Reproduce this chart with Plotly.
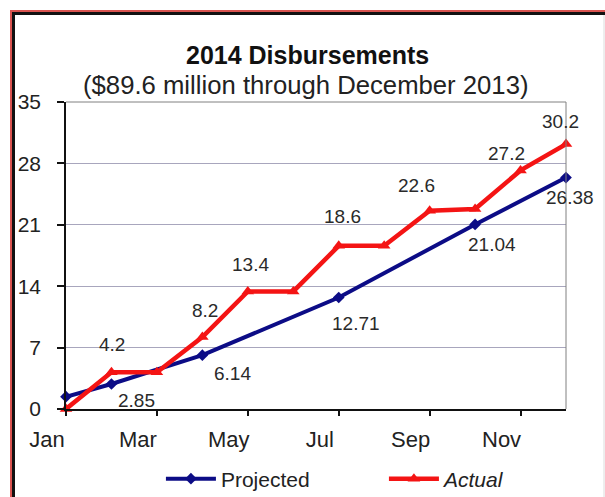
import plotly.graph_objects as go

# ---- data ----
months = ["Jan", "Feb", "Mar", "Apr", "May", "Jun", "Jul", "Aug", "Sep", "Oct", "Nov", "Dec"]
actual = [0, 4.2, 4.2, 8.2, 13.4, 13.4, 18.6, 18.6, 22.6, 22.8, 27.2, 30.2]
actual_labeled = ["Feb", "Apr", "May", "Jul", "Sep", "Nov", "Dec"]

proj_months = ["Jan", "Feb", "Apr", "Jul", "Oct", "Dec"]
projected = [1.4, 2.85, 6.14, 12.71, 21.04, 26.38]
proj_labeled = ["Feb", "Apr", "Jul", "Oct", "Dec"]

tick_months = ["Jan", "Mar", "May", "Jul", "Sep", "Nov"]
y_ticks = [0, 7, 14, 21, 28, 35]

title_text = "2014 Disbursements"
subtitle_text = "($89.6 million through December 2013)"

# ---- styling ----
FONT = "Liberation Sans, Arial, sans-serif"
RED = "#f41414"
BLUE = "#0c0c86"
W, H = 605, 497
ML, MR, MT, MB = 66, 39, 102, 88
PW, PH = W - ML - MR, H - MT - MB

# label offsets (pixels) for each labeled point
actual_offsets = {"Feb": (1, 28), "Apr": (3, 27), "May": (3, 27), "Jul": (4, 29),
                  "Sep": (-13, 25), "Nov": (-14, 17), "Dec": (-6, 23)}
proj_offsets = {"Feb": (25, -16), "Apr": (30, -18), "Jul": (17, -26),
                "Oct": (17, -20), "Dec": (4, -20)}

fig = go.Figure()
fig.add_trace(go.Scatter(
    x=proj_months, y=projected, name="Projected", mode="lines+markers",
    line=dict(color=BLUE, width=4),
    marker=dict(symbol="diamond", size=9, color=BLUE),
    cliponaxis=False,
))
fig.add_trace(go.Scatter(
    x=months, y=actual, name="<i>Actual</i>", mode="lines+markers",
    line=dict(color=RED, width=4.5),
    marker=dict(symbol="triangle-up", size=11, color=RED),
    cliponaxis=False,
))

annotations = []
for m, v in zip(months, actual):
    if m in actual_labeled:
        dx, dy = actual_offsets[m]
        annotations.append(dict(x=m, y=v, xref="x", yref="y", text=f"{v:g}", showarrow=False,
                                xshift=dx, yshift=dy, font=dict(family=FONT, size=19, color="#2a2a2a")))
for m, v in zip(proj_months, projected):
    if m in proj_labeled:
        dx, dy = proj_offsets[m]
        annotations.append(dict(x=m, y=v, xref="x", yref="y", text=f"{v:g}", showarrow=False,
                                xshift=dx, yshift=dy, font=dict(family=FONT, size=19, color="#2a2a2a")))


def px_x(px):
    return (px - ML) / PW


def px_y(py):
    return (H - MB - py) / PH


annotations.append(dict(x=px_x(307), y=px_y(55), xref="paper", yref="paper", text=f"<b>{title_text}</b>",
                        showarrow=False, xanchor="center", yanchor="middle",
                        font=dict(family=FONT, size=25, color="#111")))
annotations.append(dict(x=px_x(306), y=px_y(85), xref="paper", yref="paper", text=subtitle_text,
                        showarrow=False, xanchor="center", yanchor="middle",
                        font=dict(family=FONT, size=25.7, color="#222")))

shapes = [
    # frame top/right of plot area
    dict(type="line", xref="paper", yref="paper", x0=0, x1=1, y0=1, y1=1, line=dict(color="#808080", width=1)),
    dict(type="line", xref="paper", yref="paper", x0=1, x1=1, y0=0, y1=1, line=dict(color="#808080", width=1)),
    # outer border (red + black)
    dict(type="line", xref="paper", yref="paper", x0=px_x(10), x1=px_x(605), y0=px_y(11), y1=px_y(11),
         line=dict(color="#d9534f", width=2)),
    dict(type="line", xref="paper", yref="paper", x0=px_x(11), x1=px_x(11), y0=px_y(10), y1=px_y(497),
         line=dict(color="#d9534f", width=2)),
    dict(type="line", xref="paper", yref="paper", x0=px_x(12), x1=px_x(605), y0=px_y(13.5), y1=px_y(13.5),
         line=dict(color="#111111", width=3)),
    dict(type="line", xref="paper", yref="paper", x0=px_x(13.5), x1=px_x(13.5), y0=px_y(12), y1=px_y(497),
         line=dict(color="#111111", width=3)),
    dict(type="line", xref="paper", yref="paper", x0=px_x(604), x1=px_x(604), y0=px_y(15), y1=px_y(497),
         line=dict(color="#dcdcdc", width=1)),
]

fig.update_layout(
    width=W, height=H,
    margin=dict(l=ML, r=MR, t=MT, b=MB, autoexpand=False),
    paper_bgcolor="white", plot_bgcolor="white",
    font=dict(family=FONT, size=22, color="#222"),
    showlegend=True,
    legend=dict(orientation="h", xref="container", yref="container", x=0.266, y=1 - 479 / H,
                xanchor="left", yanchor="middle", font=dict(family=FONT, size=21, color="#222"),
                itemwidth=50, entrywidth=158, bgcolor="rgba(0,0,0,0)"),
    annotations=annotations,
    shapes=shapes,
    xaxis=dict(
        type="category", categoryorder="array", categoryarray=months,
        range=[0, 11], tickmode="array", tickvals=tick_months, ticktext=tick_months,
        showgrid=False, zeroline=False,
        showline=True, linecolor="#111", linewidth=1.5,
        ticks="outside", ticklen=5, tickcolor="#111", tickwidth=1.5,
        ticklabelshift=-19, ticklabelstandoff=5,
        tickfont=dict(family=FONT, size=22, color="#222"),
    ),
    yaxis=dict(
        range=[0, 35], tickmode="array", tickvals=y_ticks,
        showgrid=True, gridcolor="#a8a6bd", gridwidth=1, zeroline=False,
        showline=True, linecolor="#111", linewidth=1.5,
        ticks="outside", ticklen=7, tickcolor="#111", tickwidth=1.5,
        ticklabelstandoff=12,
        tickfont=dict(family=FONT, size=21, color="#222"),
    ),
)

fig.write_html("out.html", config={"displayModeBar": False},
               post_script="document.body.style.margin='0';document.body.style.overflow='hidden';")
